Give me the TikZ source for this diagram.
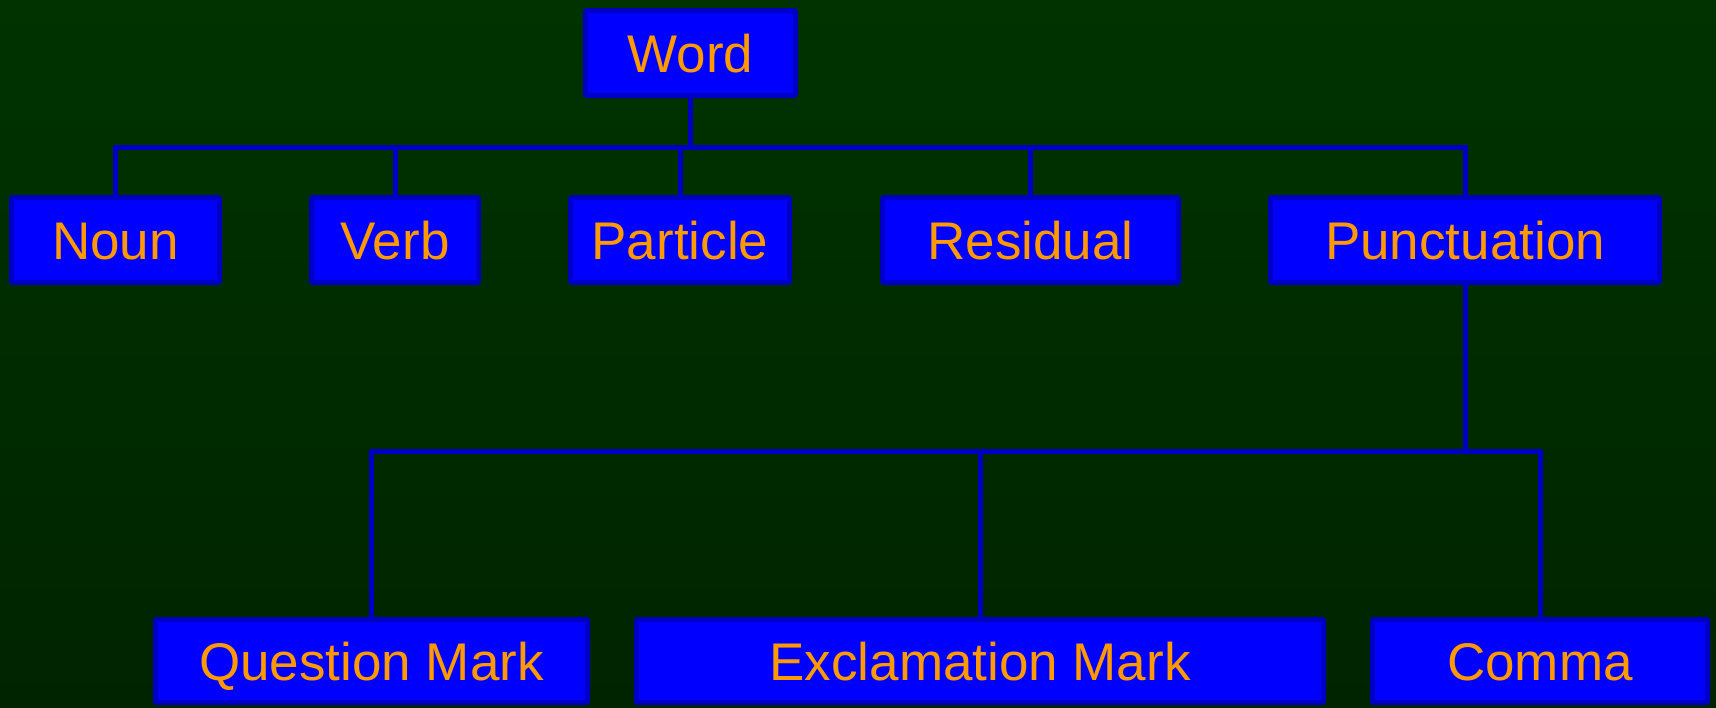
\documentclass[tikz,border=0pt]{standalone}
\usepackage{fontspec}
\setmainfont{Liberation Sans}
\definecolor{bgtop}{HTML}{003300}
\definecolor{bgbot}{HTML}{002400}
\definecolor{boxfill}{HTML}{0000FF}
\definecolor{boxline}{HTML}{0000C4}
\definecolor{txt}{HTML}{FF9900}
\pgfdeclarelayer{bg}
\pgfdeclarelayer{lines}
\pgfsetlayers{bg,lines,main}
\tikzset{
  box/.style={draw=boxline, line width=5pt, fill=boxfill, rounded corners=1.5pt,
    text=txt, font=\fontsize{53}{60}\selectfont, text height=38pt, text depth=0pt,
    inner sep=0pt, minimum height=85pt, anchor=center},
  conn/.style={draw=boxline, line width=5pt, line join=miter}
}
\begin{document}
\begin{tikzpicture}[x=1pt,y=-1pt]
\begin{pgfonlayer}{bg}
\shade[top color=bgtop, bottom color=bgbot] (0,0) rectangle (1716,707);
\end{pgfonlayer}
\useasboundingbox (0,0) rectangle (1716,707);
\node[box, minimum width=210pt] (word) at (690.5,53) {Word};
\node[box, minimum width=208pt] (noun) at (115.5,240) {Noun};
\node[box, minimum width=167pt] (verb) at (395,240) {Verb};
\node[box, minimum width=219pt] (particle) at (680,240) {Particle};
\node[box, minimum width=296pt] (residual) at (1030.5,240) {Residual};
\node[box, minimum width=389pt] (punct) at (1465,240) {Punctuation};
\node[box, minimum width=432pt, minimum height=83pt] (qm) at (371.5,661) {Question Mark};
\node[box, minimum width=687pt, minimum height=83pt] (em) at (980,661) {Exclamation Mark};
\node[box, minimum width=335pt, minimum height=83pt] (comma) at (1540,661) {Comma};
\coordinate (b1) at (690.5,147);
\coordinate (b2) at (1465,451);
\begin{pgfonlayer}{lines}
\draw[conn] (word.south) -- (b1);
\draw[conn] (noun.north) |- (b1) -| (punct.north);
\draw[conn] (verb.north) -- (verb.north |- b1);
\draw[conn] (particle.north) -- (particle.north |- b1);
\draw[conn] (residual.north) -- (residual.north |- b1);
\draw[conn] (punct.south) -- (b2);
\draw[conn] (qm.north) |- (b2) -| (comma.north);
\draw[conn] (em.north) -- (em.north |- b2);
\end{pgfonlayer}
\end{tikzpicture}
\end{document}
